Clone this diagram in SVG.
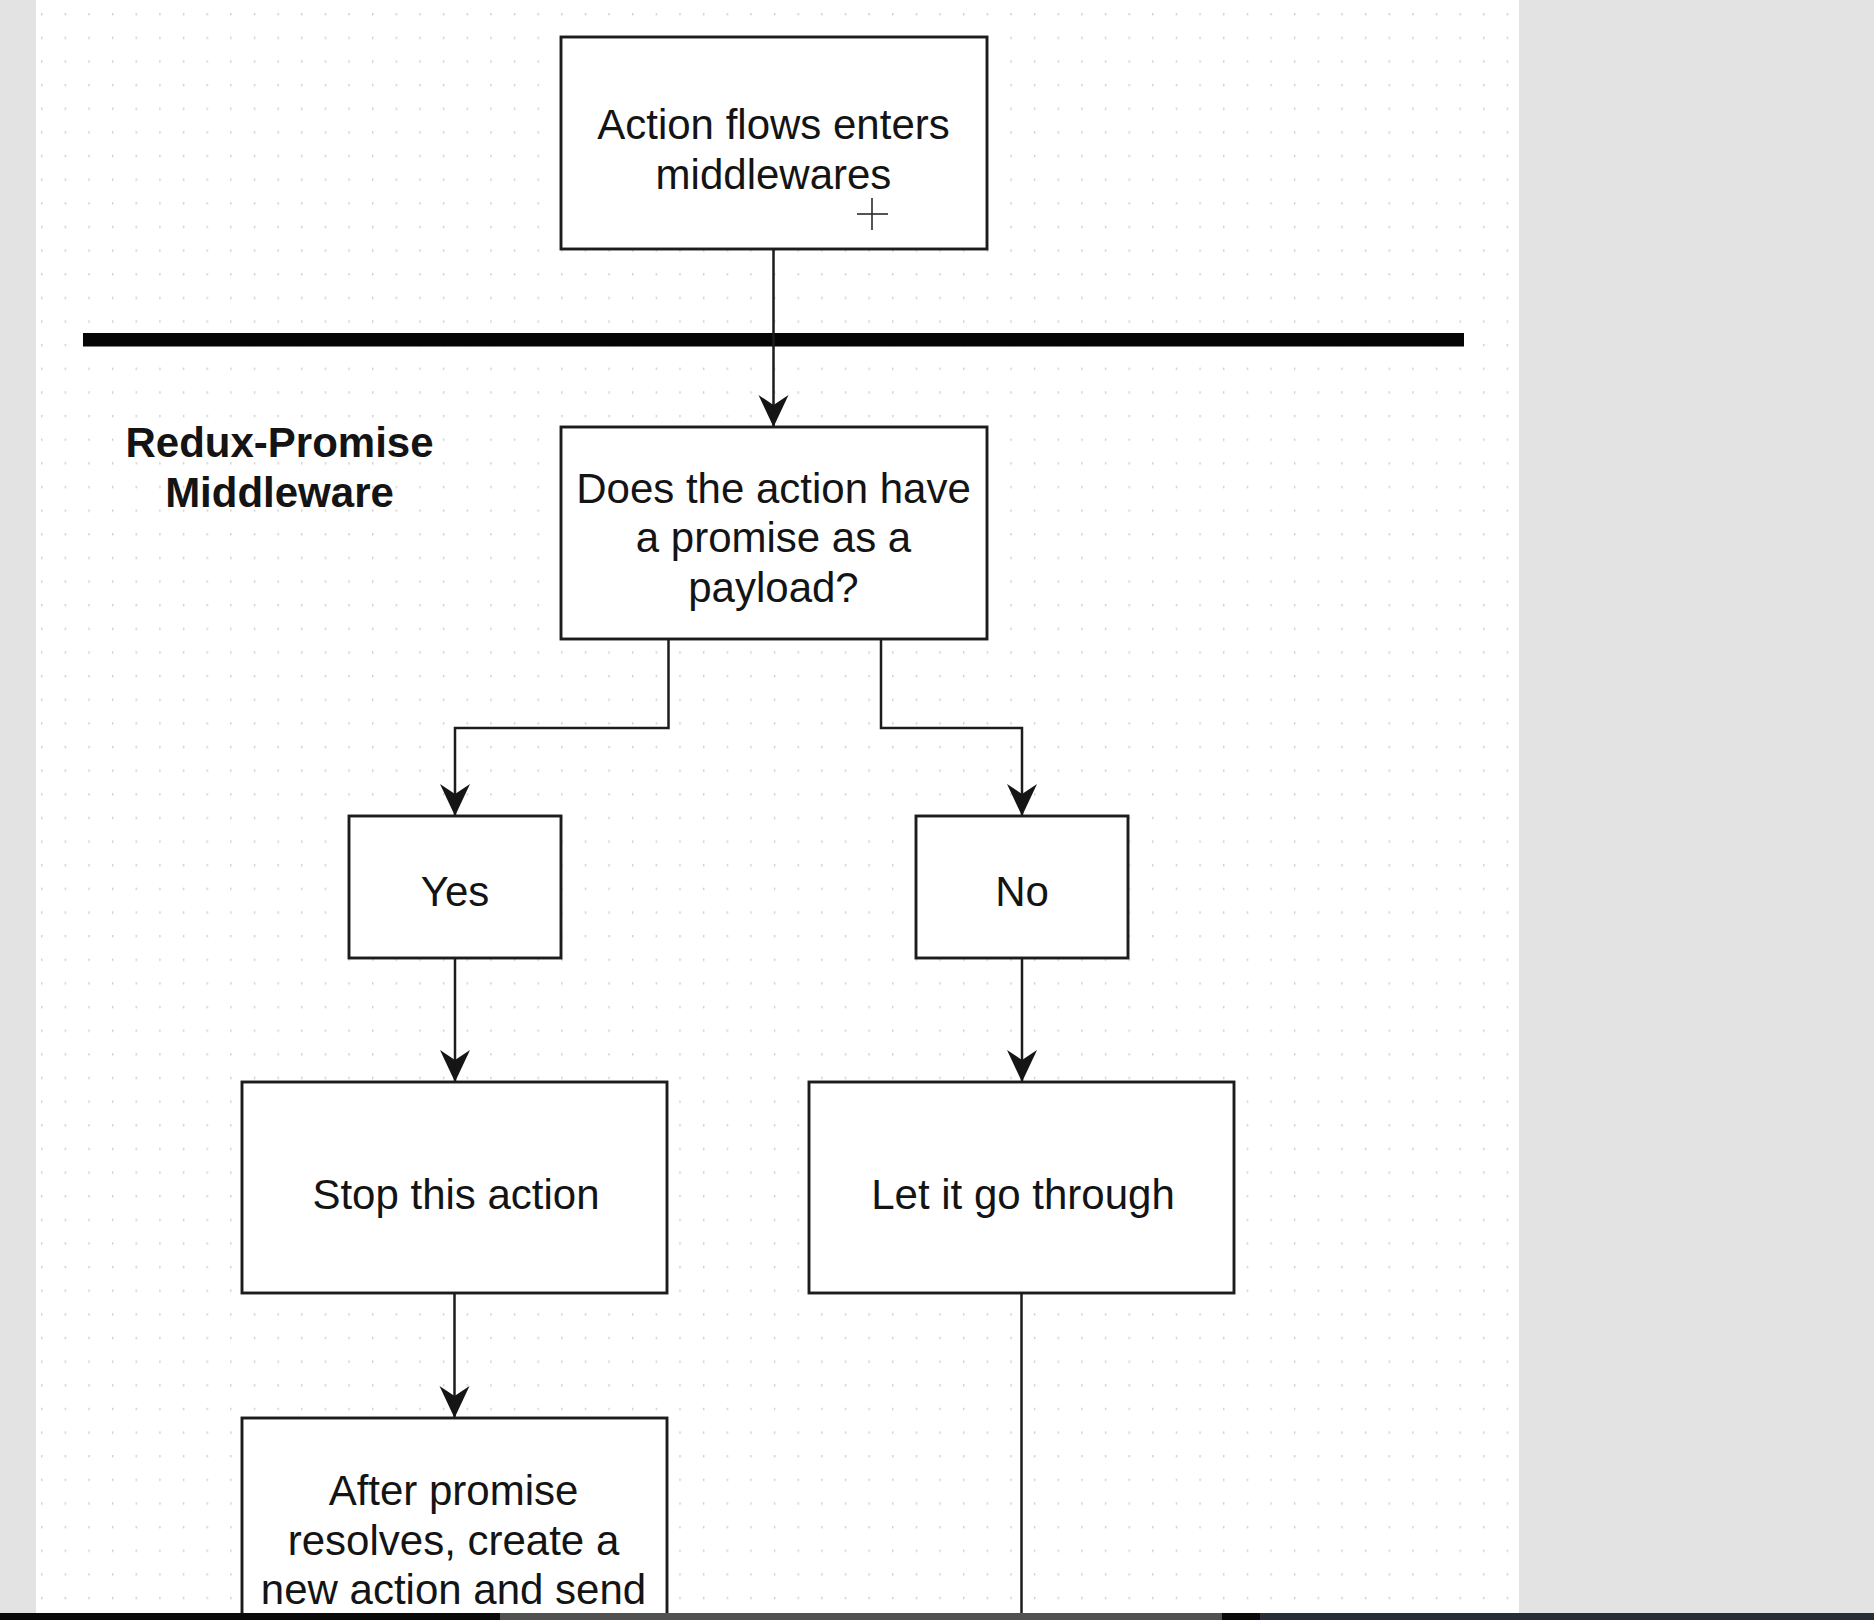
<svg xmlns="http://www.w3.org/2000/svg" width="1874" height="1620" viewBox="0 0 1874 1620">
  <defs>
    <pattern id="dots" x="17.4" y="13" width="23.64" height="23.64" patternUnits="userSpaceOnUse">
      <rect x="0" y="0" width="1.4" height="2.4" fill="#cfcfcf"/>
    </pattern>
    <marker id="arrow" viewBox="0 0 32 32" refX="32" refY="16" markerWidth="32" markerHeight="32" markerUnits="userSpaceOnUse" orient="auto">
      <path d="M0,1 L32,16 L0,31 L10,16 Z" fill="#151515"/>
    </marker>
    <style>
      .box { fill: #ffffff; stroke: #1c1c1c; stroke-width: 2.9; }
      .lbl { font-family: "Liberation Sans", Arial, Helvetica, sans-serif; font-size: 42px; fill: #141414; text-anchor: middle; }
      .bold { font-weight: bold; }
      .conn { fill: none; stroke: #1c1c1c; stroke-width: 2.5; }
    </style>
  </defs>

  <!-- backgrounds -->
  <rect x="0" y="0" width="1874" height="1620" fill="#e3e3e3"/>
  <rect x="36" y="0" width="1483" height="1620" fill="#ffffff"/>
  <rect x="36" y="0" width="1483" height="1620" fill="url(#dots)"/>

  <!-- divider bar -->
  <rect id="divider" x="83" y="333" width="1381" height="13.5" fill="#050505"/>

  <!-- section label -->
  <g id="label-redux-promise">
    <text class="lbl bold" x="279.5" y="457">Redux-Promise</text>
    <text class="lbl bold" x="279.5" y="507">Middleware</text>
  </g>

  <!-- connectors -->
  <g id="connectors">
    <path class="conn" d="M773.5,249 L773.5,427" marker-end="url(#arrow)"/>
    <path class="conn" d="M668.5,639 L668.5,728 L455,728 L455,816" marker-end="url(#arrow)"/>
    <path class="conn" d="M881,639 L881,728 L1022,728 L1022,816" marker-end="url(#arrow)"/>
    <path class="conn" d="M455,958 L455,1082" marker-end="url(#arrow)"/>
    <path class="conn" d="M1022,958 L1022,1082" marker-end="url(#arrow)"/>
    <path class="conn" d="M454.5,1293 L454.5,1418" marker-end="url(#arrow)"/>
    <path class="conn" d="M1021.5,1293 L1021.5,1620"/>
  </g>

  <!-- nodes -->
  <g id="node-action-enters">
    <rect class="box" x="561" y="37" width="426" height="212"/>
    <text class="lbl" x="773.5" y="139">Action flows enters</text>
    <text class="lbl" x="773.5" y="189">middlewares</text>
  </g>

  <g id="node-has-promise">
    <rect class="box" x="561" y="427" width="426" height="212"/>
    <text class="lbl" x="773.5" y="503">Does the action have</text>
    <text class="lbl" x="773.5" y="552">a promise as a</text>
    <text class="lbl" x="773.5" y="602">payload?</text>
  </g>

  <g id="node-yes">
    <rect class="box" x="349" y="816" width="212" height="142"/>
    <text class="lbl" x="455" y="906">Yes</text>
  </g>

  <g id="node-no">
    <rect class="box" x="916" y="816" width="212" height="142"/>
    <text class="lbl" x="1022" y="906">No</text>
  </g>

  <g id="node-stop">
    <rect class="box" x="242" y="1082" width="425" height="211"/>
    <text class="lbl" x="456" y="1209">Stop this action</text>
  </g>

  <g id="node-let-through">
    <rect class="box" x="809" y="1082" width="425" height="211"/>
    <text class="lbl" x="1023" y="1209">Let it go through</text>
  </g>

  <g id="node-after-resolve">
    <rect class="box" x="242" y="1418" width="425" height="260"/>
    <text class="lbl" x="453.5" y="1505">After promise</text>
    <text class="lbl" x="453.5" y="1555">resolves, create a</text>
    <text class="lbl" x="453.5" y="1604">new action and send</text>
  </g>

  <!-- cursor crosshair -->
  <g id="cursor" stroke="#2a2a2a" stroke-width="1.6">
    <line x1="857" y1="214" x2="888" y2="214"/>
    <line x1="872" y1="198" x2="872" y2="230"/>
  </g>

  <!-- bottom strip -->
  <rect x="0" y="1613" width="500" height="7" fill="#0a0a0a"/>
  <rect x="500" y="1613" width="722" height="7" fill="#4f524f"/>
  <rect x="1222" y="1613" width="38" height="7" fill="#0a0a0a"/>
  <rect x="1260" y="1613" width="614" height="7" fill="#272e39"/>
</svg>
